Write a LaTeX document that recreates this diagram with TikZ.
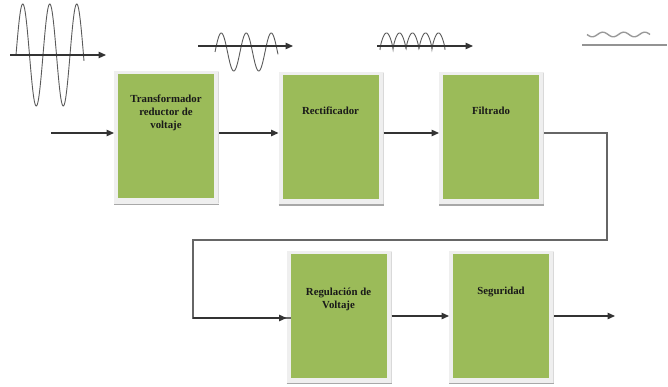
\documentclass[tikz,border=0pt]{standalone}
\usepackage{fontspec}
\setmainfont{Liberation Serif}
\usetikzlibrary{arrows.meta,backgrounds,calc}
\definecolor{boxgreen}{HTML}{9BBB59}
\definecolor{framegray}{HTML}{EFEFEF}
\definecolor{shadowgray}{HTML}{A8A8A8}
\definecolor{wavegray}{HTML}{5A5A5A}
\newcommand\bxtext[2]{\begin{minipage}[t][124pt][t]{96pt}\centering\fontsize{10.8}{13}\selectfont\bfseries\vspace*{#1}#2\end{minipage}}
\tikzset{
  stagebox/.style={fill=boxgreen, inner sep=0pt, outer sep=0pt, text=black!90},
  conn/.style={draw=black!80, line width=1.3pt},
  arr/.style={conn, -{Triangle[length=7.5pt,width=6.5pt]}},
  wave/.style={draw=wavegray, line width=0.9pt},
}
\begin{document}
\begin{tikzpicture}[x=1pt,y=-1pt]
\useasboundingbox (0,0) rectangle (668,387);
% boxes
\node[stagebox] (b1) at (166,136.5) {\bxtext{20pt}{Transformador\\reductor de\\voltaje}};
\node[stagebox] (b2) at (330.5,137) {\bxtext{32pt}{Rectificador}};
\node[stagebox] (b3) at (491,137) {\bxtext{32pt}{Filtrado}};
\node[stagebox] (b4) at (338.5,315.5) {\bxtext{34pt}{Regulación de\\Voltaje}};
\node[stagebox] (b5) at (501,315.5) {\bxtext{34pt}{Seguridad}};
\begin{scope}[on background layer]
  \foreach \b in {b1,b2,b3,b4,b5}{
    \fill[framegray] ($(\b.north west)+(-4,-3)$) rectangle ($(\b.south east)+(5,6)$);
    \draw[shadowgray, line width=1.5pt] ($(\b.south west)+(-4,6)$) -- ($(\b.south east)+(5,6)$);
    \draw[framegray!80!gray, line width=0.8pt] ($(\b.north east)+(4.6,-2)$) -- ($(\b.south east)+(4.6,5)$);
  }
\end{scope}
% connectors
\coordinate (r1) at (0,133);
\coordinate (in) at (51,133);
\coordinate (c1) at (607,133);
\coordinate (c2) at (607,240);
\coordinate (c3) at (193,240);
\coordinate (c4) at (193,318);
\coordinate (r2) at (0,316);
\coordinate (out) at (615,316);
\draw[arr, shorten >=4pt] (in) -- (in -| b1.west);
\draw[arr, shorten >=4pt, shorten <=5pt] (b1.east |- r1) -- (b2.west |- r1);
\draw[arr, shorten >=4pt, shorten <=5pt] (b2.east |- r1) -- (b3.west |- r1);
\draw[conn, draw=black!60, shorten <=5pt] (b3.east |- r1) -- (c1) -- (c2) -- (c3) -- (c4) -- (c4 -| b4.west);
\draw[arr, shorten >=4pt] (c4) -- (c4 -| b4.west);
\draw[arr, shorten >=4pt, shorten <=5pt] (b4.east |- r2) -- (b5.west |- r2);
\draw[arr, shorten <=5pt] (b5.east |- r2) -- (out);
% waveform 1: input AC
\coordinate (w1s) at (10,55);
\coordinate (w1e) at (106,55);
\draw[wave] plot[domain=16:84, samples=200, smooth] (\x, {55 - 51*sin((\x-16)/27*360)});
\draw[arr, line width=1.2pt] (w1s) -- (w1e);
% waveform 2: reduced AC
\coordinate (w2s) at (198,46);
\coordinate (w2e) at (293,46);
\draw[wave] plot[domain=215:278, samples=200, smooth] (\x, {52 - 19*sin((\x-215)/25*360)});
\draw[arr, line width=1.2pt] (w2s) -- (w2e);
% waveform 3: rectified
\coordinate (w3s) at (377,46);
\coordinate (w3e) at (473,46);
\draw[wave] plot[domain=380:445, samples=400] (\x, {50 - 17*(0.5*abs(sin((\x-380)/13*180)) + 0.5*sqrt(abs(sin((\x-380)/13*180))))});
\draw[arr, line width=1.2pt] (w3s) -- (w3e);
% waveform 4: filtered
\draw[draw=gray!80, line width=1.4pt] plot[domain=587:650, samples=150, smooth] (\x, {34.5 + 2.3*sin((\x-587)/21*360)});
\coordinate (w4s) at (582,45);
\coordinate (w4e) at (667,45);
\draw[draw=gray!85, line width=2pt] (w4s) -- (w4e);
\end{tikzpicture}
\end{document}
